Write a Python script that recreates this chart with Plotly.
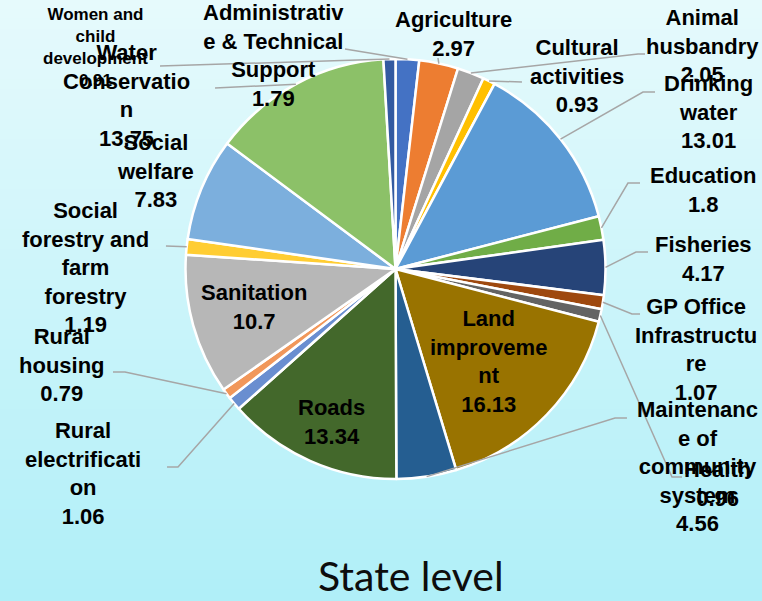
import math
import plotly.graph_objects as go

W, H = 762, 601

# sector-wise share (%) at state level
sectors = ['Administrative & Technical Support', 'Agriculture', 'Animal husbandry',
           'Cultural activities', 'Drinking water', 'Education', 'Fisheries',
           'GP Office Infrastructure', 'Health', 'Land improvement',
           'Maintenance of community system', 'Roads', 'Rural electrification',
           'Rural housing', 'Sanitation', 'Social forestry and farm forestry',
           'Social welfare', 'Water Conservation', 'Women and child development']
shares = [1.79, 2.97, 2.05, 0.93, 13.01, 1.8, 4.17, 1.07, 0.96, 16.13,
          4.56, 13.34, 1.06, 0.79, 10.7, 1.19, 7.83, 13.75, 0.91]
colors = ['#4472C4', '#ED7D31', '#A5A5A5', '#FFC000', '#5B9BD5', '#70AD47', '#264478',
          '#9E480E', '#636363', '#997300', '#255E91', '#43682B', '#698ED0', '#F1975A',
          '#B7B7B7', '#FFCD33', '#7CAFDD', '#8CC168', '#335AA1']

# label text as wrapped in the original chart
label_text = ['Administrativ<br>e & Technical<br>Support', 'Agriculture', 'Animal<br>husbandry',
              'Cultural<br>activities', 'Drinking<br>water', 'Education', 'Fisheries',
              'GP Office<br>Infrastructu<br>re', 'Health', 'Land<br>improveme<br>nt',
              'Maintenanc<br>e of<br>community<br>system', 'Roads', 'Rural<br>electrificati<br>on',
              'Rural<br>housing', 'Sanitation', 'Social<br>forestry and<br>farm<br>forestry',
              'Social<br>welfare', 'Water<br>Conservatio<br>n', 'Women and<br>child<br>development']

# label centre (px), leader elbow points (px) - layout only
label_pos = [(273, 55), (453, 34), (702, 46), (577, 76), (708, 112), (703, 190), (703, 259),
             (696, 349), (717, 484), (488, 361), (697, 466), (331, 422), (83, 473),
             (62, 365), (254, 307), (85, 267), (155, 171), (126, 96), (95, 47)]
leader_pts = [[(345, 49)], [(438, 58)], [(638, 54), (645, 54)], [(522, 82)],
              [(643, 92), (655, 92)], [(628, 183), (640, 183)], [(636, 252), (648, 252)],
              [(632, 314), (640, 314)], [(672, 477), (682, 477)], None,
              [(615, 418), (627, 418)], None, [(178, 467), (167, 467)],
              [(125, 372), (113, 372)], None, [(166, 246)], None, [(215, 88)], [(160, 66)]]

cx, cy, r = 395.5, 269, 210


def px(x, y):
    return x / W, 1 - y / H


fig = go.Figure(go.Pie(
    labels=sectors, values=shares, sort=False, direction='clockwise', rotation=0,
    marker=dict(colors=colors, line=dict(color='white', width=2.5)),
    textinfo='none', hoverinfo='label+value', showlegend=False,
    domain=dict(x=[(cx - r) / W, (cx + r) / W], y=[(H - cy - r) / H, (H - cy + r) / H]),
))

# background gradient
shapes = []
top, bot = (230, 250, 252), (176, 239, 248)
n = 60
for i in range(n):
    t = i / (n - 1)
    c = tuple(round(top[k] + (bot[k] - top[k]) * t) for k in range(3))
    shapes.append(dict(type='rect', xref='paper', yref='paper', x0=0, x1=1,
                       y0=1 - (i + 1) / n, y1=1 - i / n + 0.002, layer='below',
                       fillcolor='rgb(%d,%d,%d)' % c, line=dict(width=0)))

annotations = []
total = sum(shares)
cum = 0
for i, v in enumerate(shares):
    ang = math.radians(360 * (cum + v / 2) / total)
    cum += v
    sx, sy = cx + r * math.sin(ang), cy - r * math.cos(ang)
    if leader_pts[i]:
        pts = [px(sx, sy)] + [px(*p) for p in leader_pts[i]]
        path = 'M ' + ' L '.join('%.4f,%.4f' % p for p in pts)
        shapes.append(dict(type='path', xref='paper', yref='paper', path=path,
                           line=dict(color='#A6A6A6', width=1.5)))
    lx, ly = px(*label_pos[i])
    size = 17 if sectors[i].startswith('Women') else 22
    annotations.append(dict(x=lx, y=ly, xref='paper', yref='paper', showarrow=False,
                            text=label_text[i] + '<br>' + str(v), align='center',
                            xanchor='center', yanchor='middle',
                            font=dict(family='Liberation Sans, Arial', size=size,
                                      color='#000000', weight='bold')))

annotations.append(dict(x=411 / W, y=1 - 575 / H, xref='paper', yref='paper', showarrow=False,
                        text='State level', xanchor='center', yanchor='middle',
                        font=dict(family='Lato', size=41, color='#0D0D0D')))

fig.update_layout(width=W, height=H, margin=dict(l=0, r=0, t=0, b=0),
                  paper_bgcolor='#CFF5FA', plot_bgcolor='rgba(0,0,0,0)',
                  shapes=shapes, annotations=annotations)

fig.write_html("out.html", config={'displayModeBar': False},
               post_script="document.body.style.margin='0';")
